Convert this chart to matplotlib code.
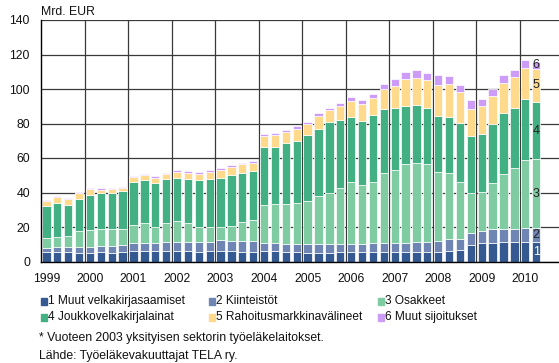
import numpy as np
import matplotlib
matplotlib.use("Agg")
import matplotlib.pyplot as plt
from matplotlib.patches import Rectangle

plt.rcParams['font.family'] = ['Liberation Sans', 'DejaVu Sans']

# quarterly values 1999Q1 .. 2010Q2, mrd. EUR
years = [str(y) for y in range(1999, 2011)]
muut_velkakirjat = [5.7, 5.7, 5.7, 5.1, 5.1, 5.3, 5.1, 5.3, 6.1, 6.1, 5.9, 6.1,
                    6.1, 6.1, 5.7, 6.1, 6.1, 6.1, 5.7, 5.7, 6.3, 5.9, 5.7, 5.3,
                    5.1, 5.1, 5.1, 5.3, 5.3, 5.3, 5.3, 5.3, 5.3, 5.3, 5.3, 5.3,
                    5.3, 5.9, 6.7, 9.4, 10.5, 10.9, 11.3, 11.3, 11.3, 11.1]
kiinteistot = [2.4, 2.5, 2.5, 3.1, 3.1, 3.9, 4.1, 4.3, 4.8, 4.8, 5.0, 5.4,
               5.4, 5.4, 5.8, 5.4, 6.4, 6.0, 6.4, 6.4, 4.6, 5.0, 4.4, 5.0,
               5.0, 5.0, 5.0, 5.0, 4.8, 4.8, 5.2, 5.6, 5.2, 5.6, 5.8, 6.2,
               6.8, 7.0, 6.5, 6.9, 7.0, 7.8, 7.7, 7.7, 8.3, 8.3]
osakkeet = [5.7, 6.2, 6.6, 9.5, 10.2, 9.8, 9.8, 9.4, 10.4, 11.4, 9.3, 10.8,
            12.2, 10.8, 8.7, 8.7, 7.7, 8.5, 10.8, 12.0, 21.9, 22.4, 23.2, 23.4,
            25.2, 27.9, 29.8, 32.5, 35.8, 34.2, 35.8, 40.6, 42.5, 45.4, 45.8, 44.8,
            40.0, 38.2, 33.1, 23.6, 22.8, 26.6, 31.9, 35.2, 39.2, 39.8]
joukkovelkakirjat = [18.5, 19.7, 18.1, 18.3, 20.3, 20.5, 20.9, 22.0, 25.0, 24.9, 25.1, 25.3,
                     24.5, 25.3, 27.0, 27.6, 28.0, 29.5, 28.6, 28.2, 33.8, 33.3, 35.2, 36.3,
                     37.8, 38.8, 40.7, 39.2, 37.7, 37.3, 38.4, 36.9, 36.2, 33.8, 33.8, 32.9,
                     32.4, 32.7, 34.0, 33.0, 33.6, 34.6, 35.4, 35.0, 35.2, 33.1]
rahamarkkinat = [2.8, 3.5, 3.3, 3.5, 3.1, 2.1, 1.9, 1.6, 2.5, 2.9, 2.9, 2.9,
                 3.7, 3.9, 3.7, 4.3, 4.8, 4.9, 5.0, 5.0, 6.2, 6.5, 6.6, 6.8,
                 6.9, 7.7, 7.1, 8.3, 9.4, 9.8, 10.2, 11.4, 12.7, 15.7, 15.9, 16.0,
                 18.0, 18.9, 17.8, 15.7, 16.2, 16.2, 17.4, 17.9, 18.3, 19.5]
muut_sijoitukset = [0.7, 0.5, 0.6, 0.8, 0.8, 0.8, 0.8, 0.8, 0.8, 0.8, 1.2, 1.0,
                    1.1, 1.0, 0.8, 0.9, 1.0, 1.1, 0.8, 0.8, 1.1, 1.4, 1.1, 1.8,
                    1.1, 1.4, 1.4, 1.7, 2.2, 2.1, 2.2, 2.9, 3.7, 4.1, 4.2, 3.9,
                    5.4, 4.6, 4.0, 5.0, 4.3, 4.1, 4.2, 3.9, 4.5, 3.9]

series = [muut_velkakirjat, kiinteistot, osakkeet, joukkovelkakirjat,
          rahamarkkinat, muut_sijoitukset]
names = ["1 Muut velkakirjasaamiset", "2 Kiinteistöt", "3 Osakkeet",
         "4 Joukkovelkakirjalainat", "5 Rahoitusmarkkinavälineet",
         "6 Muut sijoitukset"]
colors = ["#355a91", "#6f85b3", "#80cca2", "#43b083", "#ffd98c", "#cc9cf7"]

fig = plt.figure(figsize=(5.59, 3.63), dpi=100)
ax = fig.add_axes([41 / 559, 101.5 / 363, 518 / 559, 241.5 / 363])

x = np.arange(len(muut_velkakirjat))
bottom = np.zeros(len(x))
for vals, col in zip(series, colors):
    vals = np.array(vals)
    ax.bar(x, vals, width=0.76, bottom=bottom, color=col,
           edgecolor="white", linewidth=0.5, zorder=3)
    bottom += vals

# series numbers on the last bar
last = len(x) - 1
base = 0.0
for k, vals in enumerate(series):
    mid = base + vals[last] / 2
    ax.text(last, mid, str(k + 1), ha="center", va="center", fontsize=9,
            color="white" if k == 0 else "#222222", zorder=5)
    base += vals[last]

ax.set_xlim(-0.5, 47.1)
ax.set_ylim(0, 140)
ax.set_yticks(range(0, 141, 20))
ax.set_xticks(np.arange(0, len(years) * 4, 4))
ax.set_xticklabels(years)
ax.set_xticks(np.arange(3.5, len(years) * 4 - 1, 4), minor=True)
ax.tick_params(axis="both", which="both", length=0, labelsize=8.8,
               colors="#111111")
ax.tick_params(axis="y", pad=8)
ax.tick_params(axis="x", pad=8)
ax.grid(axis="y", which="major", color="#3a3a3a", linewidth=0.9, zorder=1)
ax.grid(axis="x", which="minor", color="#3a3a3a", linewidth=0.9, zorder=1)
for side in ["top", "right"]:
    ax.spines[side].set_visible(False)
for side in ["left", "bottom"]:
    ax.spines[side].set_color("black")
    ax.spines[side].set_linewidth(1.0)
    ax.spines[side].set_zorder(4)

fig.text(41 / 559, 1 - 12 / 363, "Mrd. EUR", ha="left", va="center",
         fontsize=8.8, color="#111111")

# legend in two rows of three
col_x = [41, 209, 378]
row_y = [301, 317]
for k, (name, col) in enumerate(zip(names, colors)):
    px = col_x[k % 3]
    py = row_y[k // 3]
    fig.patches.append(Rectangle((px / 559, 1 - (py + 3.5) / 363), 6 / 559, 7 / 363,
                                 transform=fig.transFigure, color=col))
    fig.text((px + 7) / 559, 1 - py / 363, name, ha="left", va="center",
             fontsize=8.6, color="#111111")

fig.text(39 / 559, 1 - 338 / 363, "* Vuoteen 2003 yksityisen sektorin työeläkelaitokset.",
         ha="left", va="center", fontsize=8.8, color="#111111")
fig.text(39 / 559, 1 - 356 / 363, "Lähde: Työeläkevakuuttajat TELA ry.",
         ha="left", va="center", fontsize=8.8, color="#111111")

fig.savefig("out.png", dpi=100)
